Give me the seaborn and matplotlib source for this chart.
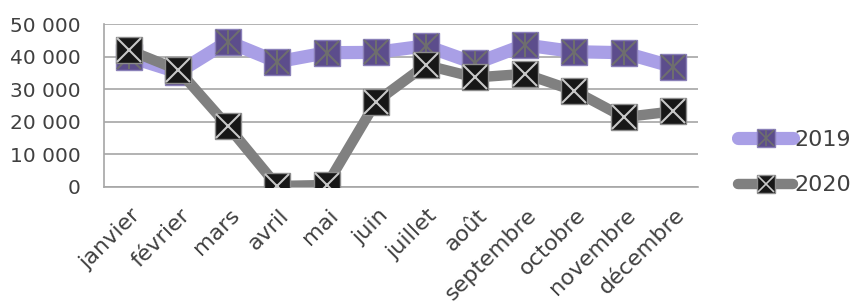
#!/usr/bin/env python3

import pandas as pd
import matplotlib.pyplot as plt
import matplotlib.transforms as mtransforms
from matplotlib.lines import Line2D
from matplotlib.legend_handler import HandlerTuple
from matplotlib.ticker import FuncFormatter
import seaborn as sns

months = ["janvier", "février", "mars", "avril", "mai", "juin", "juillet",
          "août", "septembre", "octobre", "novembre", "décembre"]
values_2019 = [40000, 35200, 44600, 38400, 41200, 41300, 43300, 37900, 43600, 41500, 41200, 36900]
values_2020 = [42000, 35900, 18700, 300, 600, 26200, 37400, 33600, 34700, 29500, 21400, 23200]

C19_LINE = "#a99fe6"
C19_FILL = "#5c4d8c"
C19_X = "#6e6e6e"
C20_LINE = "#808080"
C20_FILL = "#171717"
C20_X = "#c8c8c8"
TXT = "#404040"
GRID = "#a6a6a6"


def build_frame():
    df = pd.DataFrame({"month": months, "2019": values_2019, "2020": values_2020})
    df["pos"] = range(len(df))
    return df.melt(id_vars=["month", "pos"], var_name="year", value_name="value")


def main():
    sns.set_theme(style="white")
    plt.rcParams["font.family"] = ["DejaVu Sans"]
    df = build_frame()

    fig = plt.figure(figsize=(8.58, 3.04), dpi=100)
    ax = fig.add_axes([0.1212, 0.385, 0.6923, 0.536])

    styles = {
        "2019": dict(line=C19_LINE, lw=9.5, fill=C19_FILL, cross=C19_X, edge="#8a80b8"),
        "2020": dict(line=C20_LINE, lw=7.5, fill=C20_FILL, cross=C20_X, edge="#8c8c8c"),
    }
    handles = []
    for year in ["2019", "2020"]:
        st = styles[year]
        sub = df[df["year"] == year]
        sns.lineplot(data=sub, x="pos", y="value", ax=ax, color=st["line"], lw=st["lw"],
                     marker="s", markersize=19, markerfacecolor=st["fill"],
                     markeredgecolor=st["edge"], markeredgewidth=1, solid_capstyle="round",
                     zorder=3 if year == "2019" else 4)
        ax.plot(sub["pos"], sub["value"], ls="none", marker="x", markersize=17,
                markeredgecolor=st["cross"], markeredgewidth=1.5,
                zorder=3.5 if year == "2019" else 4.5)
        if year == "2019":
            ax.plot(sub["pos"], sub["value"], ls="none", marker="|", markersize=17,
                    markeredgecolor=st["cross"], markeredgewidth=1.5, zorder=3.5)
        h = [Line2D([], [], color=st["line"], lw=st["lw"], solid_capstyle="round",
                    marker="s", markersize=13, markerfacecolor=st["fill"],
                    markeredgecolor=st["edge"]),
             Line2D([], [], ls="none", marker="x", markersize=11,
                    markeredgecolor=st["cross"], markeredgewidth=1.2)]
        if year == "2019":
            h.append(Line2D([], [], ls="none", marker="|", markersize=11,
                            markeredgecolor=st["cross"], markeredgewidth=1.2))
        handles.append(tuple(h))

    ax.set_xlim(-0.5, 11.5)
    ax.set_ylim(0, 50000)
    ax.set_yticks(range(0, 50001, 10000))
    ax.yaxis.set_major_formatter(FuncFormatter(lambda v, p: f"{int(v):,}".replace(",", " ")))
    ax.set_xticks(range(12))
    ax.set_xticklabels(months, rotation=45, ha="right", va="top", rotation_mode="anchor")
    ax.set_xticks([i - 0.5 for i in range(13)], minor=True)
    ax.tick_params(axis="x", which="major", length=0, pad=13, labelsize=16, labelcolor=TXT)
    ax.tick_params(axis="x", which="minor", length=5, width=1.2, color=GRID, direction="out")
    ax.tick_params(axis="y", length=5, width=1.2, color=GRID, labelsize=14.5, labelcolor=TXT, pad=12)
    shift = mtransforms.ScaledTranslation(1 / 72, 0, fig.dpi_scale_trans)
    for lab in ax.get_xticklabels():
        lab.set_transform(lab.get_transform() + shift)
    ax.grid(axis="y", color=GRID, lw=1.2)
    for side in ["top", "right"]:
        ax.spines[side].set_visible(False)
    for side in ["left", "bottom"]:
        ax.spines[side].set_color(GRID)
        ax.spines[side].set_linewidth(1.2)
    ax.set_xlabel("")
    ax.set_ylabel("")

    fig.legend(handles, ["2019", "2020"], handler_map={tuple: HandlerTuple(ndivide=1, pad=0)},
               loc="center left", bbox_to_anchor=(0.86, 0.465), frameon=False, fontsize=16,
               labelcolor=TXT, handlelength=2.5, handletextpad=0.05, labelspacing=1.15,
               borderpad=0, borderaxespad=0)

    fig.savefig("out.png", dpi=100)
    plt.close(fig)


if __name__ == "__main__":
    main()
